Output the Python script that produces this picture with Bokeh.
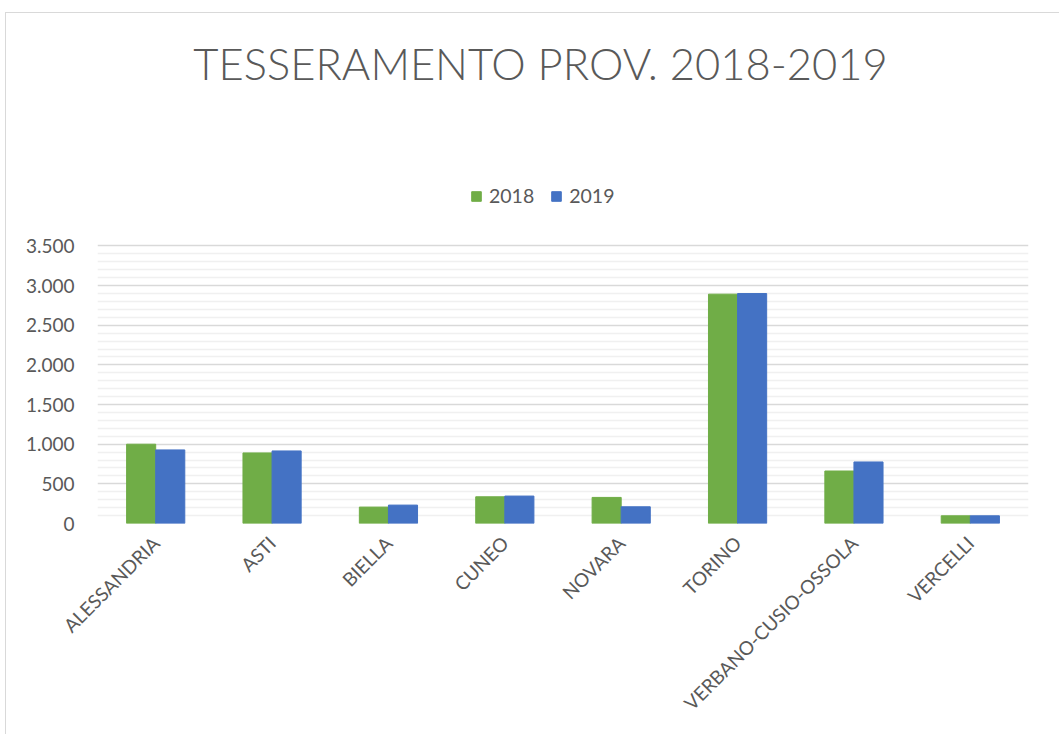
import math
from bokeh.plotting import figure
from bokeh.models import (FactorRange, Range1d, FixedTicker, CustomJSTickFormatter,
                          Legend, LegendItem, Label)
from bokeh.transform import dodge
from bokeh.embed import file_html
from bokeh.resources import INLINE

categories = ["ALESSANDRIA", "ASTI", "BIELLA", "CUNEO", "NOVARA", "TORINO",
              "VERBANO-CUSIO-OSSOLA", "VERCELLI"]
values_2018 = [1000, 890, 207, 337, 329, 2892, 662, 97]
values_2019 = [928, 915, 232, 346, 211, 2900, 776, 97]
series_names = ["2018", "2019"]
title_text = "TESSERAMENTO PROV. 2018-2019"
major_ticks = [0, 500, 1000, 1500, 2000, 2500, 3000, 3500]
minor_ticks = [v for v in range(0, 3501, 100) if v % 500 != 0]

GREEN = "#70AD47"
BLUE = "#4472C4"
TEXT = "#595959"
FONT = "Lato"

# frame spans from the top of the chart area down to the baseline; the value axis
# (0..3500) occupies the lower 277 px of it, the title and legend sit in the upper part
FRAME_H = 509
AXIS_H = 277
y_end = max(major_ticks) * FRAME_H / AXIS_H

p = figure(x_range=FactorRange(*categories), y_range=Range1d(0, y_end),
           width=1054, height=722, output_backend="svg", toolbar_location=None,
           min_border_left=91, min_border_right=32, min_border_top=0, min_border_bottom=212,
           margin=(12, 0, 0, 5),
           styles={"border-left": "1px solid #d9d9d9", "border-top": "1px solid #d9d9d9"})
p.outline_line_color = None
p.background_fill_color = "white"
p.border_fill_color = "white"

src = dict(cat=categories, v18=values_2018, v19=values_2019)
r1 = p.vbar(x=dodge("cat", -0.125, range=p.x_range), top="v18", width=0.25, source=src,
            fill_color=GREEN, line_color=GREEN)
r2 = p.vbar(x=dodge("cat", 0.125, range=p.x_range), top="v19", width=0.25, source=src,
            fill_color=BLUE, line_color=BLUE)

p.yaxis.ticker = FixedTicker(ticks=major_ticks, minor_ticks=minor_ticks)
p.yaxis.formatter = CustomJSTickFormatter(
    code="return Math.round(tick).toString().replace(/\\B(?=(\\d{3})+(?!\\d))/g, '.');")
p.ygrid.grid_line_color = "#d9d9d9"
p.ygrid.grid_line_width = 1.5
p.ygrid.minor_grid_line_color = "#f0f0f0"
p.ygrid.minor_grid_line_width = 1.5
p.xgrid.grid_line_color = None

for ax in (p.xaxis[0], p.yaxis[0]):
    ax.axis_line_color = None
    ax.major_tick_line_color = None
    ax.minor_tick_line_color = None
    ax.major_label_text_color = TEXT
    ax.major_label_text_font = FONT
    ax.major_label_text_font_size = "19px"
p.yaxis.major_label_standoff = 17
p.xaxis.major_label_orientation = math.pi / 4
p.xaxis.major_label_standoff = 10

legend = Legend(items=[LegendItem(label=series_names[0], renderers=[r1]),
                       LegendItem(label=series_names[1], renderers=[r2])],
                orientation="horizontal", location=(373, 316),
                glyph_width=12, glyph_height=12, label_text_font=FONT,
                label_text_font_size="19.5px", label_text_color=TEXT,
                spacing=16, label_standoff=7, padding=0, margin=0,
                border_line_color=None, background_fill_alpha=0)
p.add_layout(legend, "center")

p.add_layout(Label(x=443, y=461, x_units="screen", y_units="screen", text=title_text,
                   text_font="Lato Light", text_font_size="43.5px", text_color=TEXT,
                   text_align="center", text_baseline="middle"))

open("out.html", "w").write(file_html(p, INLINE))
